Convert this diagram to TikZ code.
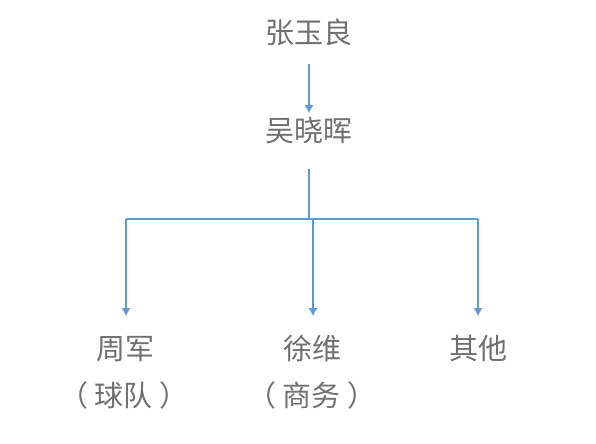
\documentclass[tikz,border=0pt]{standalone}
\usepackage{fontspec}
\setmainfont{Noto Sans CJK SC}
\usetikzlibrary{positioning}
\usetikzlibrary{calc}
\usetikzlibrary{arrows,arrows.meta}
\definecolor{linkblue}{HTML}{5B9BD5}
\definecolor{namegray}{HTML}{707070}

\begin{document}
\begin{tikzpicture}[x=0.5pt,y=-0.5pt,
  person/.style={text=namegray,font=\fontsize{14.5}{17}\selectfont,inner sep=0pt,text height=10.5pt,text depth=2pt},
  link/.style={draw=linkblue,line width=0.6pt},
  tip/.style={-{Latex[length=4pt,width=4.5pt]}}]
\useasboundingbox (0,0) rectangle (596,444);
\node[person](zhang) at (309,35){张玉良};
\node[person](wu) at (309,133){吴晓晖};
\node[person](zhou) at (126,351){周军};
\node[person](zhouteam) at (124,398){（ 球队 ）};
\node[person](xu) at (313,351){徐维};
\node[person](xubiz) at (312,398){（ 商务 ）};
\node[person](other) at (478,351){其他};
\coordinate(split) at (309,219);
\coordinate(left) at (126,219);
\coordinate(mid) at (313,219);
\coordinate(right) at (478,219);

\draw[link] (left) -- (right);
\path
(zhang) edge[link,tip,shorten <=8pt,shorten >=3.5pt]node{} (wu)
(wu) edge[link,shorten <=11.5pt]node{} (split)
(left) edge[link,tip,shorten >=11pt]node{} (zhou)
(mid) edge[link,tip,shorten >=11pt]node{} (xu)
(right) edge[link,tip,shorten >=11pt]node{} (other);
\end{tikzpicture}
\end{document}
